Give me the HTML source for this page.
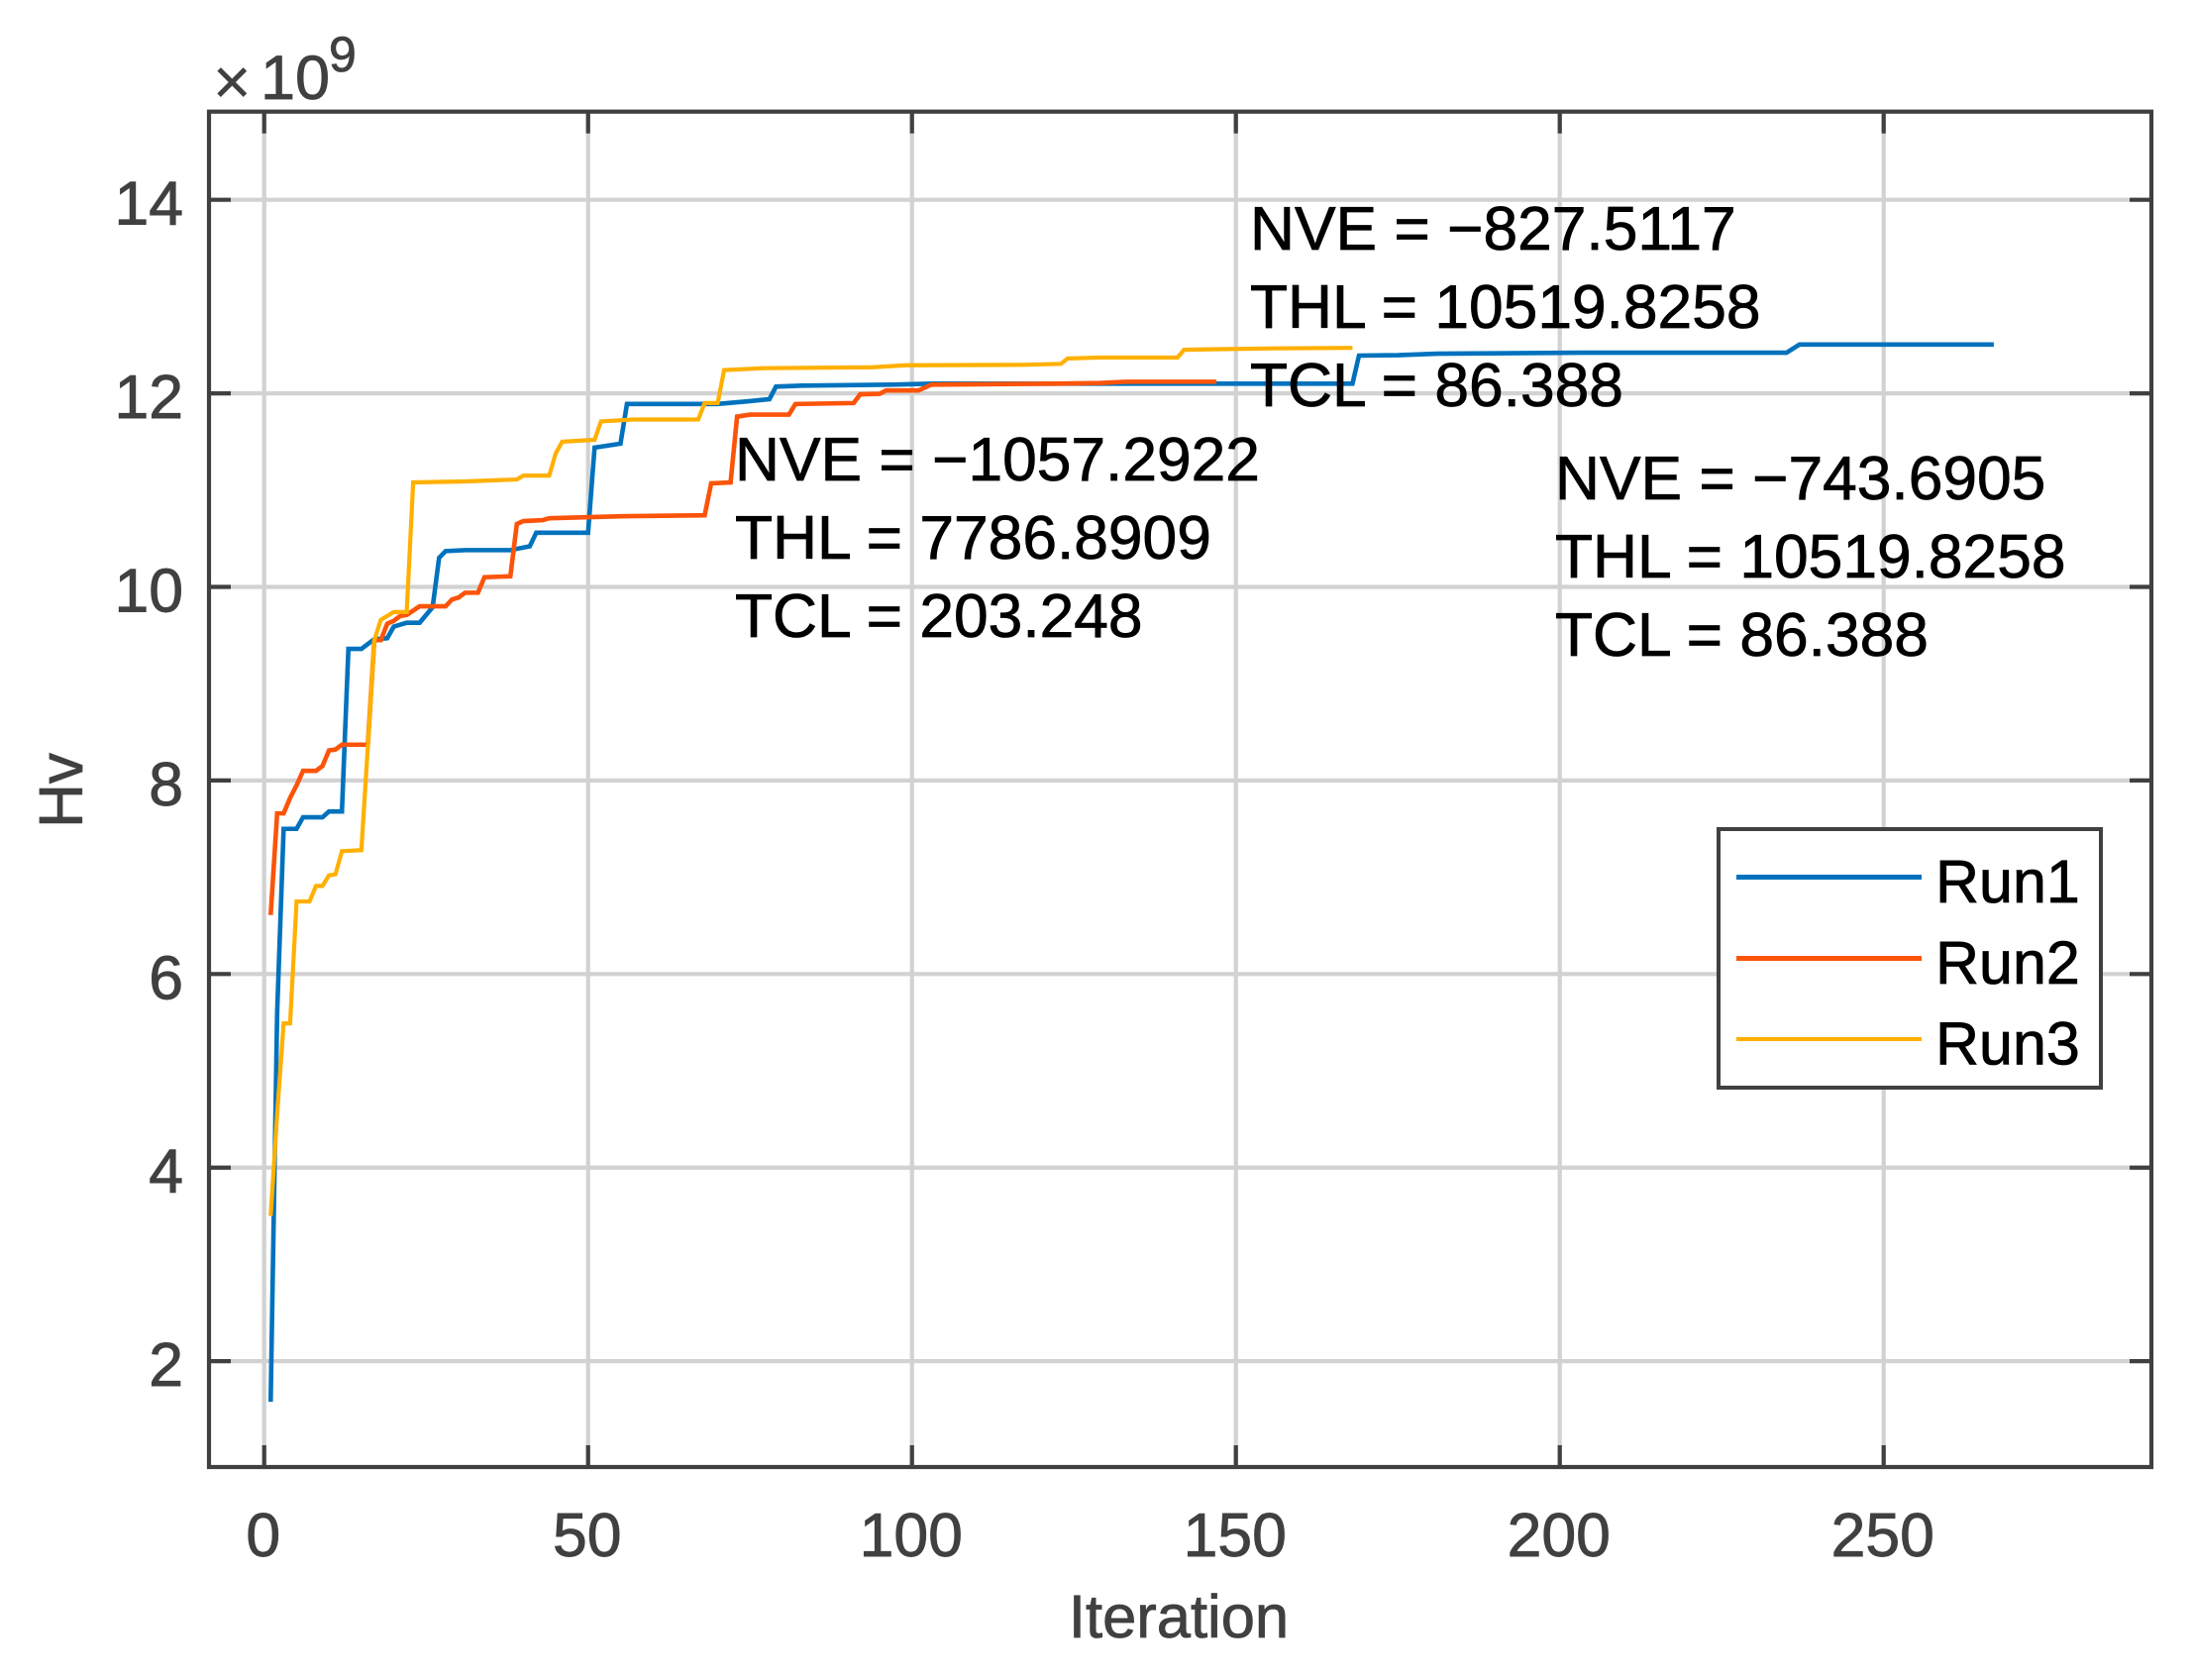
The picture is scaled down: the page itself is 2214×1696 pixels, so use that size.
<!DOCTYPE html>
<html lang="en">
<head>
<meta charset="utf-8">
<title>Hv vs Iteration</title>
<style>
html,body{margin:0;padding:0;background:#fff;width:2214px;height:1696px;overflow:hidden}
svg{display:block}
text{font-family:"Liberation Sans",Arial,sans-serif}
</style>
</head>
<body>
<svg id="chart" xmlns="http://www.w3.org/2000/svg" width="2214" height="1696" viewBox="0 0 2214 1696">
  <rect x="0" y="0" width="2214" height="1696" fill="#ffffff"/>
  <g id="grid"></g>
  <g id="series"></g>
  <g id="axes"></g>

  <text x="1190" y="1653" font-size="61.5" fill="#404040" stroke="#404040" stroke-width="0.8" text-anchor="middle">Iteration</text>
  <text transform="translate(83 798) rotate(-90)" font-size="62" fill="#404040" stroke="#404040" stroke-width="0.8" text-anchor="middle">Hv</text>

  <g fill="#404040" stroke="#404040" stroke-width="0.8">
    <text x="215" y="105" font-size="66" stroke-width="0.3">×</text>
    <text x="263" y="100" font-size="63">10</text>
    <text x="332" y="72" font-size="50">9</text>
  </g>

  <g font-size="62.3" fill="#000000" stroke="#000000" stroke-width="0.8">
    <text x="742" y="485">NVE = −1057.2922</text>
    <text x="742" y="564">THL = 7786.8909</text>
    <text x="742" y="643">TCL = 203.248</text>
  </g>
  <g font-size="62.3" fill="#000000" stroke="#000000" stroke-width="0.8">
    <text x="1262" y="252">NVE = −827.5117</text>
    <text x="1262" y="331">THL = 10519.8258</text>
    <text x="1262" y="410">TCL = 86.388</text>
  </g>
  <g font-size="62.3" fill="#000000" stroke="#000000" stroke-width="0.8">
    <text x="1570" y="504">NVE = −743.6905</text>
    <text x="1570" y="583">THL = 10519.8258</text>
    <text x="1570" y="662">TCL = 86.388</text>
  </g>

  <g>
    <rect x="1735" y="837" width="386" height="261" fill="#ffffff" stroke="#404040" stroke-width="4"/>
    <g>
      <line x1="1753" y1="885.5" x2="1940" y2="885.5" stroke="#0072bd" stroke-width="5"/>
      <text x="1954" y="911" font-size="61" fill="#000000" stroke="#000000" stroke-width="0.8">Run1</text>
    </g>
    <g>
      <line x1="1753" y1="967.5" x2="1940" y2="967.5" stroke="#fb540a" stroke-width="5"/>
      <text x="1954" y="993" font-size="61" fill="#000000" stroke="#000000" stroke-width="0.8">Run2</text>
    </g>
    <g>
      <line x1="1753" y1="1049" x2="1940" y2="1049" stroke="#ffb000" stroke-width="4"/>
      <text x="1954" y="1074.5" font-size="61" fill="#000000" stroke="#000000" stroke-width="0.8">Run3</text>
    </g>
  </g>
</svg>
<script>
// Chart data (Hv in units of 1e9)
const xTickValues = [0, 50, 100, 150, 200, 250];
const yTickValues = [2, 4, 6, 8, 10, 12, 14];

const run1Iterations = [1, 2, 3, 5, 6, 9, 10, 12, 13, 15, 17, 19, 20, 22, 24, 26, 27, 28, 31, 38, 41, 42, 50, 51, 55, 56, 70, 75, 78, 79, 83, 97, 103, 152, 168, 169, 175, 181, 203, 235, 237, 267];
const run1Hv = [1.58, 5.6, 7.5, 7.5, 7.62, 7.62, 7.68, 7.68, 9.36, 9.36, 9.46, 9.47, 9.59, 9.63, 9.63, 9.79, 10.3, 10.37, 10.38, 10.38, 10.42, 10.56, 10.56, 11.44, 11.48, 11.89, 11.89, 11.92, 11.94, 12.07, 12.08, 12.09, 12.1, 12.1, 12.1, 12.39, 12.395, 12.41, 12.42, 12.42, 12.505, 12.505];

const run2Iterations = [1, 2, 3, 4, 5, 6, 8, 9, 10, 11, 12, 16, 17, 18, 19, 20, 21, 22, 24, 28, 29, 30, 31, 33, 34, 38, 39, 40, 43, 44, 55, 68, 69, 72, 73, 75, 81, 82, 91, 92, 95, 96, 101, 103, 122, 129, 133, 147];
const run2Hv = [6.61, 7.66, 7.66, 7.82, 7.95, 8.1, 8.1, 8.15, 8.31, 8.32, 8.37, 8.37, 9.45, 9.45, 9.62, 9.65, 9.7, 9.71, 9.8, 9.8, 9.87, 9.89, 9.94, 9.94, 10.1, 10.11, 10.65, 10.68, 10.69, 10.71, 10.73, 10.74, 11.07, 11.08, 11.76, 11.78, 11.78, 11.89, 11.9, 11.99, 11.995, 12.03, 12.03, 12.09, 12.1, 12.107, 12.12, 12.12];

const run3Iterations = [1, 2, 3, 4, 5, 7, 8, 9, 10, 11, 12, 15, 16, 17, 18, 20, 22, 23, 31, 39, 40, 44, 45, 46, 51, 52, 57, 67, 68, 70, 71, 77, 94, 99, 117, 123, 124, 129, 141, 142, 146, 156, 168];
const run3Hv = [3.5, 4.55, 5.49, 5.49, 6.75, 6.75, 6.91, 6.91, 7.02, 7.03, 7.27, 7.28, 8.35, 9.45, 9.66, 9.74, 9.74, 11.08, 11.09, 11.11, 11.15, 11.15, 11.38, 11.5, 11.52, 11.71, 11.73, 11.73, 11.9, 11.9, 12.24, 12.26, 12.27, 12.29, 12.295, 12.305, 12.36, 12.37, 12.37, 12.45, 12.455, 12.465, 12.47];

const plot = { left: 211, right: 2172, top: 112.7, bottom: 1481 };
const xLim = [-8.52, 291.33];
const yLim = [0.906, 14.911];
const SVG_NS = 'http://www.w3.org/2000/svg';
const AXIS_COLOR = '#404040';
const GRID_COLOR = '#d2d2d2';
const TICK_LEN = 22;
const RULE_WIDTH = 4.2;

function xScale(v) {
  return plot.left + (v - xLim[0]) / (xLim[1] - xLim[0]) * (plot.right - plot.left);
}
function yScale(v) {
  return plot.bottom - (v - yLim[0]) / (yLim[1] - yLim[0]) * (plot.bottom - plot.top);
}
function makeLine(parent, x1, y1, x2, y2, color, width) {
  const l = document.createElementNS(SVG_NS, 'line');
  l.setAttribute('x1', x1);
  l.setAttribute('y1', y1);
  l.setAttribute('x2', x2);
  l.setAttribute('y2', y2);
  l.setAttribute('stroke', color);
  l.setAttribute('stroke-width', width);
  parent.appendChild(l);
  return l;
}
function makeText(parent, x, y, str, anchor) {
  const t = document.createElementNS(SVG_NS, 'text');
  t.setAttribute('x', x);
  t.setAttribute('y', y);
  t.setAttribute('font-size', 62.5);
  t.setAttribute('fill', AXIS_COLOR);
  t.setAttribute('stroke', AXIS_COLOR);
  t.setAttribute('stroke-width', 0.9);
  t.setAttribute('text-anchor', anchor);
  t.textContent = str;
  parent.appendChild(t);
  return t;
}
function drawSeries(parent, xs, ys, color, width) {
  const p = document.createElementNS(SVG_NS, 'polyline');
  p.setAttribute('points', xs.map(function (x, i) {
    return xScale(x).toFixed(2) + ',' + yScale(ys[i]).toFixed(2);
  }).join(' '));
  p.setAttribute('fill', 'none');
  p.setAttribute('stroke', color);
  p.setAttribute('stroke-width', width);
  p.setAttribute('stroke-linejoin', 'miter');
  parent.appendChild(p);
  return p;
}

const gridGroup = document.getElementById('grid');
const axesGroup = document.getElementById('axes');
const seriesGroup = document.getElementById('series');

xTickValues.forEach(function (v) {
  const x = xScale(v);
  const g = makeLine(gridGroup, x, plot.top, x, plot.bottom, GRID_COLOR, RULE_WIDTH);
  
  
  const t1 = makeLine(axesGroup, x, plot.bottom, x, plot.bottom - TICK_LEN, AXIS_COLOR, RULE_WIDTH);
  
  
  const t2 = makeLine(axesGroup, x, plot.top, x, plot.top + TICK_LEN, AXIS_COLOR, RULE_WIDTH);
  
  
  const lab = makeText(axesGroup, x - 1, 1571, String(v), 'middle');
  
  
});

yTickValues.forEach(function (v) {
  const y = yScale(v);
  const g = makeLine(gridGroup, plot.left, y, plot.right, y, GRID_COLOR, RULE_WIDTH);
  
  
  const t1 = makeLine(axesGroup, plot.left, y, plot.left + TICK_LEN, y, AXIS_COLOR, RULE_WIDTH);
  
  
  const t2 = makeLine(axesGroup, plot.right, y, plot.right - TICK_LEN, y, AXIS_COLOR, RULE_WIDTH);
  
  
  const lab = makeText(axesGroup, 185, y + 25, String(v), 'end');
  
  
});

const frame = document.createElementNS(SVG_NS, 'rect');
frame.setAttribute('x', plot.left);
frame.setAttribute('y', plot.top);
frame.setAttribute('width', plot.right - plot.left);
frame.setAttribute('height', plot.bottom - plot.top);
frame.setAttribute('fill', 'none');
frame.setAttribute('stroke', AXIS_COLOR);
frame.setAttribute('stroke-width', RULE_WIDTH);


axesGroup.appendChild(frame);

const line1 = drawSeries(seriesGroup, run1Iterations, run1Hv, '#0072bd', 4.6);


const line2 = drawSeries(seriesGroup, run2Iterations, run2Hv, '#fb540a', 4.6);


const line3 = drawSeries(seriesGroup, run3Iterations, run3Hv, '#ffb000', 4.2);


</script>
</body>
</html>
